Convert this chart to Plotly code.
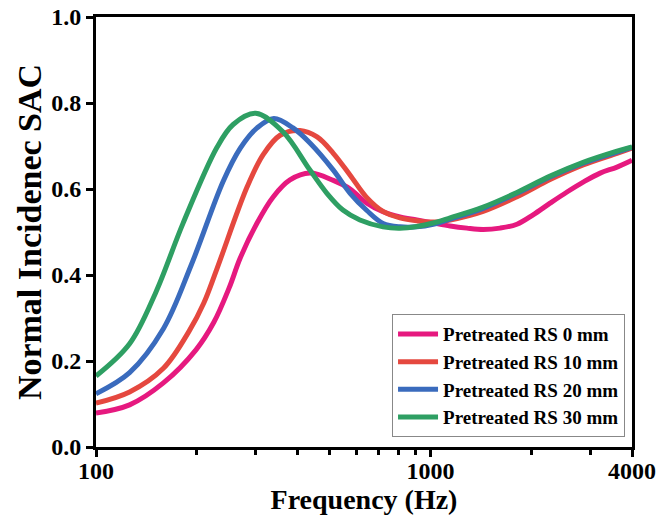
import plotly.graph_objects as go

# ---- data ----
f_0mm = [100, 126, 159, 199, 225, 250, 270, 303, 338, 380, 436, 512, 575, 645, 721, 810, 910, 1018, 1144, 1285, 1436, 1613, 1812, 2025, 2276, 2557, 2858, 3212, 3608, 4000]
sac_0mm = [0.079, 0.098, 0.149, 0.226, 0.290, 0.370, 0.440, 0.521, 0.581, 0.621, 0.637, 0.620, 0.600, 0.567, 0.547, 0.535, 0.528, 0.521, 0.514, 0.509, 0.506, 0.509, 0.518, 0.540, 0.567, 0.593, 0.616, 0.637, 0.651, 0.667]

f_10mm = [100, 126, 159, 190, 210, 230, 283, 316, 355, 407, 458, 512, 575, 645, 721, 810, 910, 1018, 1144, 1436, 1812, 2276, 2858, 3608, 4000]
sac_10mm = [0.102, 0.128, 0.183, 0.270, 0.335, 0.415, 0.605, 0.680, 0.725, 0.736, 0.721, 0.683, 0.632, 0.580, 0.548, 0.533, 0.526, 0.523, 0.528, 0.548, 0.582, 0.622, 0.656, 0.683, 0.695]

f_20mm = [100, 126, 159, 193, 240, 270, 303, 340, 388, 436, 512, 575, 645, 721, 810, 910, 1018, 1144, 1436, 1812, 2276, 2858, 3608, 4000]
sac_20mm = [0.124, 0.173, 0.275, 0.425, 0.618, 0.695, 0.742, 0.764, 0.742, 0.707, 0.644, 0.590, 0.550, 0.520, 0.512, 0.512, 0.518, 0.530, 0.555, 0.590, 0.628, 0.660, 0.686, 0.697]

f_30mm = [100, 126, 151, 182, 230, 257, 300, 362, 436, 490, 547, 615, 721, 810, 910, 1018, 1144, 1436, 1812, 2276, 2858, 3608, 4000]
sac_30mm = [0.165, 0.240, 0.360, 0.520, 0.697, 0.750, 0.776, 0.733, 0.644, 0.590, 0.551, 0.528, 0.512, 0.509, 0.513, 0.521, 0.533, 0.558, 0.592, 0.630, 0.662, 0.688, 0.698]

names = ["Pretreated RS 0 mm", "Pretreated RS 10 mm", "Pretreated RS 20 mm", "Pretreated RS 30 mm"]
colors = ["#E6197F", "#E5483F", "#3A6BBD", "#2E9F63"]

x_tickvals = [100, 1000, 4000]
x_ticktext = ["100", "1000", "4000"]
x_minor = [200, 300, 400, 500, 600, 700, 800, 900, 2000, 3000]
y_tickvals = [0.0, 0.2, 0.4, 0.6, 0.8, 1.0]

FONT = "Liberation Serif"

fig = go.Figure()
for fx, sy, nm, c in zip([f_0mm, f_10mm, f_20mm, f_30mm],
                         [sac_0mm, sac_10mm, sac_20mm, sac_30mm], names, colors):
    fig.add_trace(go.Scatter(x=fx, y=sy, name=nm, mode="lines",
                             line=dict(color=c, width=5, shape="spline", smoothing=1.0)))

axis_common = dict(showline=True, linecolor="black", linewidth=3, mirror=True,
                   ticks="outside", tickcolor="black", tickwidth=3, ticklen=7,
                   showgrid=False, zeroline=False, automargin=False,
                   ticklabeloverflow="allow",
                   tickfont=dict(family=FONT, size=24, color="black", weight="bold"))

fig.update_xaxes(type="log", range=[2, 3.60206], tickvals=x_tickvals, ticktext=x_ticktext,
                 ticklabelstandoff=-7,
                 minor=dict(tickvals=x_minor, ticks="outside", ticklen=5, tickwidth=3, tickcolor="black"),
                 title=dict(text="Frequency (Hz)", standoff=4,
                            font=dict(family=FONT, size=28, color="black", weight="bold")),
                 **axis_common)
fig.update_yaxes(range=[0, 1], tickvals=y_tickvals, tickformat=".1f",
                 title=dict(text="Normal Incidenec SAC", standoff=0,
                            font=dict(family=FONT, size=34, color="black", weight="bold")),
                 **axis_common)

fig.update_layout(
    width=660, height=527,
    margin=dict(l=96, r=28, t=17, b=80, autoexpand=False),
    plot_bgcolor="white", paper_bgcolor="white",
    legend=dict(x=0.987, y=0.023, xanchor="right", yanchor="bottom",
                bgcolor="white", bordercolor="#888888", borderwidth=1,
                font=dict(family=FONT, size=19, color="black", weight="bold"),
                tracegroupgap=0, itemwidth=40),
)

# remove the default 8px page margin so the figure sits at the window's top-left corner
fig.write_html("out.html", config={"displayModeBar": False},
               post_script="document.body.style.margin='0';document.body.style.overflow='hidden';")
